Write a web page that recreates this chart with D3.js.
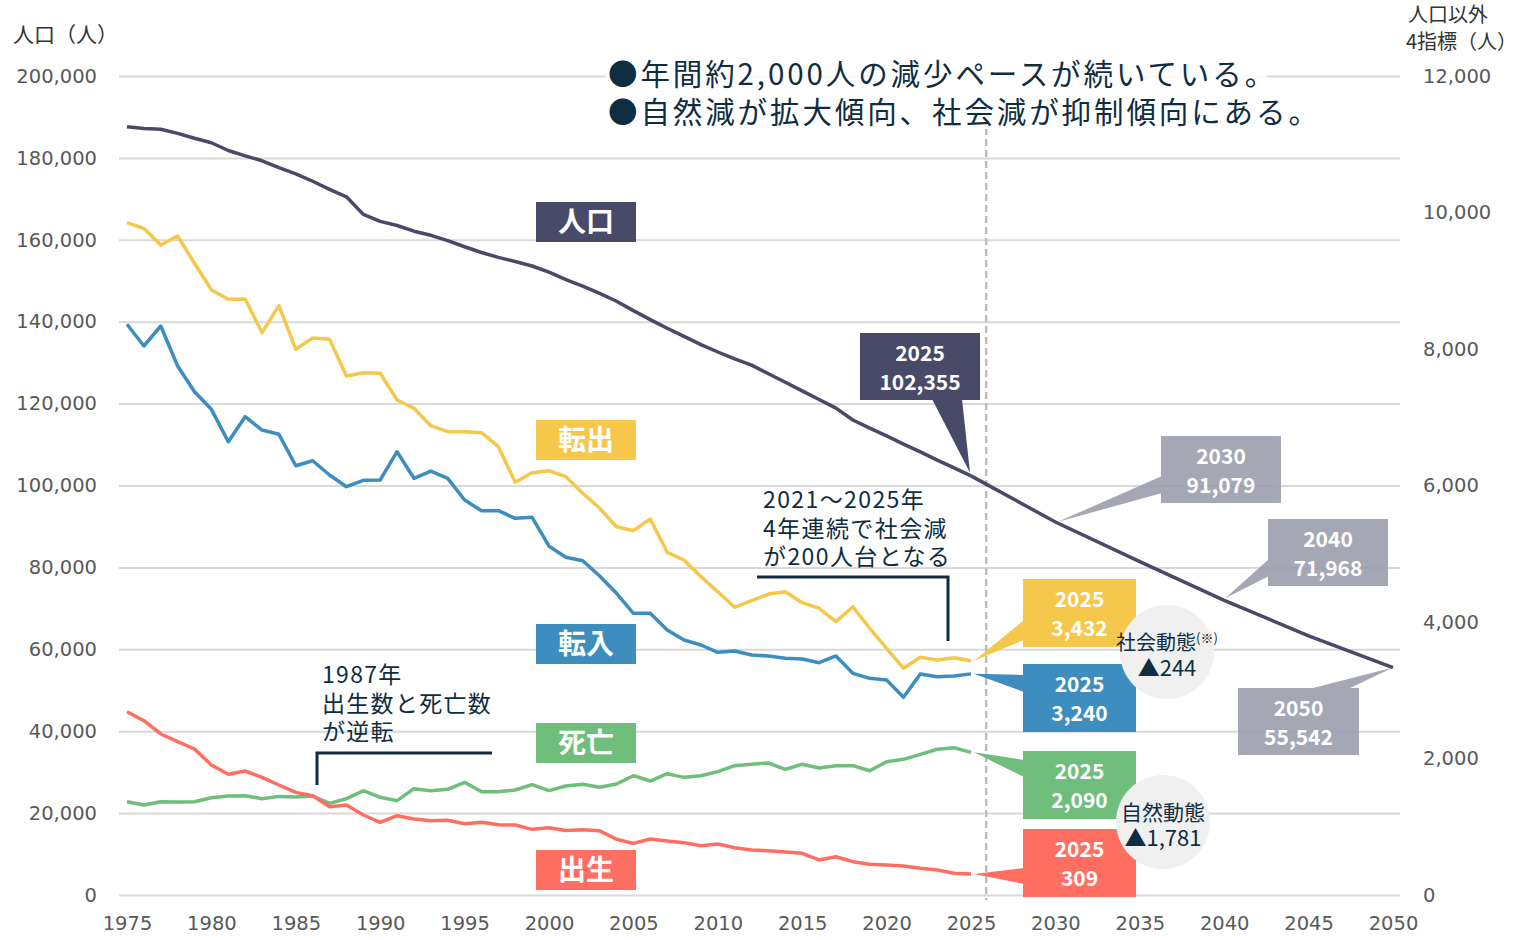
<!DOCTYPE html>
<html><head><meta charset="utf-8">
<script src="https://cdn.jsdelivr.net/npm/d3@7"></script>
<style>
body{margin:0;background:#fff}
svg{display:block}
text{font-family:"Noto Sans CJK JP","Noto Sans",sans-serif}
</style>
</head><body>
<svg id="c" width="1524" height="940"></svg>
<script>
// ===== DATA =====
const years = [1975,1976,1977,1978,1979,1980,1981,1982,1983,1984,1985,1986,1987,1988,1989,1990,1991,1992,1993,1994,1995,1996,1997,1998,1999,2000,2001,2002,2003,2004,2005,2006,2007,2008,2009,2010,2011,2012,2013,2014,2015,2016,2017,2018,2019,2020,2021,2022,2023,2024,2025];
const population = [187600,187200,187000,186000,184800,183700,181800,180500,179300,177600,176100,174300,172300,170500,166200,164500,163500,162100,161100,159800,158300,156900,155700,154700,153600,152100,150300,148700,146900,145000,142700,140500,138400,136400,134400,132600,130900,129400,127300,125200,123100,121000,118900,116000,114000,112100,110100,108200,106200,104300,102355];
const projYears = [2025,2030,2035,2040,2045,2050];
const projPopulation = [102355,91079,81400,71968,63300,55542];
const outflow = [9851,9768,9524,9655,9256,8864,8728,8733,8239,8635,7996,8161,8142,7604,7653,7644,7253,7131,6876,6788,6788,6774,6569,6047,6188,6217,6129,5886,5666,5396,5338,5509,5021,4908,4664,4444,4215,4312,4410,4444,4283,4201,4005,4224,3907,3614,3322,3483,3443,3477,3432];
const inflow = [8362,8044,8337,7751,7374,7116,6642,7008,6813,6750,6290,6363,6154,5982,6076,6081,6495,6105,6212,6105,5788,5631,5631,5519,5534,5110,4948,4898,4674,4420,4127,4127,3883,3736,3663,3556,3575,3516,3502,3468,3458,3404,3502,3248,3175,3150,2897,3238,3199,3209,3240];
const deaths = [1367,1319,1367,1362,1367,1426,1450,1455,1411,1445,1435,1450,1343,1411,1528,1431,1382,1558,1528,1548,1651,1514,1514,1538,1618,1530,1597,1623,1580,1626,1748,1670,1777,1724,1748,1807,1895,1915,1934,1841,1915,1861,1895,1895,1821,1953,1988,2061,2135,2158,2090];
const births = [2686,2554,2359,2246,2139,1905,1768,1817,1724,1612,1504,1455,1294,1319,1172,1065,1162,1114,1089,1094,1045,1065,1030,1025,962,986,945,955,940,816,757,820,791,767,723,747,693,659,649,630,611,513,561,488,450,440,425,391,366,318,309];
const leftTicks = [0,20000,40000,60000,80000,100000,120000,140000,160000,180000,200000];
const rightTicks = [0,2000,4000,6000,8000,10000,12000];
const xTicks = [1975,1980,1985,1990,1995,2000,2005,2010,2015,2020,2025,2030,2035,2040,2045,2050];
const seriesNames = ["人口","転出","転入","死亡","出生"];
const titleLines = ["●年間約2,000人の減少ペースが続いている。","●自然減が拡大傾向、社会減が抑制傾向にある。"];
const popCalloutYears = [2025,2030,2040,2050];
const popCalloutValues = [102355,91079,71968,55542];
const lastValues = [3432,3240,2090,309];
const socialChange = "▲244";
const naturalChange = "▲1,781";

// ===== COLORS =====
const cPop="#484a68", cOut="#f5c84c", cIn="#3d8ebf", cDeath="#6fbe7c", cBirth="#ff6f61", cGrey="#9d9eae", cText="#0f2d40", cAxis="#595959";
const numFont = '"DejaVu Sans","Noto Sans",sans-serif';

const svg = d3.select("#c");
const x = d3.scaleLinear().domain([1975,2050]).range([127,1393]);
const yL = d3.scaleLinear().domain([0,200000]).range([895,76]);
const yR = d3.scaleLinear().domain([0,12000]).range([895,76]);

// gridlines
svg.append("g").attr("transform","translate(119,0)")
  .call(d3.axisLeft(yL).tickValues(leftTicks).tickSize(-1281).tickFormat(""))
  .call(g=>g.select(".domain").remove())
  .selectAll("line").attr("stroke","#d9d9d9").attr("stroke-width",2);

// axes
const axL = svg.append("g").attr("transform","translate(97,0)")
  .call(d3.axisLeft(yL).tickValues(leftTicks).tickSize(0).tickPadding(0).tickFormat(d3.format(",")));
const axR = svg.append("g").attr("transform","translate(1423,0)")
  .call(d3.axisRight(yR).tickValues(rightTicks).tickSize(0).tickPadding(0).tickFormat(d3.format(",")));
const axB = svg.append("g").attr("transform","translate(0,913)")
  .call(d3.axisBottom(x).tickValues(xTicks).tickSize(0).tickPadding(3).tickFormat(d3.format("d")));
[axL,axR,axB].forEach(a=>{
  a.select(".domain").remove();
  a.selectAll("text").attr("font-size",19.5).attr("fill",cAxis)
   .style("font-family",numFont);
});

// axis titles
svg.append("text").attr("x",13).attr("y",42).attr("font-size",21).attr("fill","#333").text("人口（人）");
svg.append("text").attr("x",1408).attr("y",22).attr("font-size",20).attr("fill","#333").text("人口以外");
svg.append("text").attr("x",1406).attr("y",49).attr("font-size",20).attr("fill","#333").text("4指標（人）");

// dashed line
svg.append("line").attr("x1",x(2025.9)).attr("x2",x(2025.9)).attr("y1",128).attr("y2",900)
  .attr("stroke","#bdbdbd").attr("stroke-width",2.5).attr("stroke-dasharray","7,4");

// lines
const lineL = d3.line().x(d=>x(d[0])).y(d=>yL(d[1]));
const lineR = d3.line().x(d=>x(d[0])).y(d=>yR(d[1]));
const zip = (a,b)=>a.map((v,i)=>[v,b[i]]);
svg.append("path").attr("d",lineL(zip(projYears,projPopulation))).attr("fill","none").attr("stroke",cPop).attr("stroke-width",3.5);
svg.append("path").attr("d",lineL(zip(years,population))).attr("fill","none").attr("stroke",cPop).attr("stroke-width",3.5).attr("stroke-linejoin","round");
[[outflow,cOut],[inflow,cIn],[deaths,cDeath],[births,cBirth]].forEach(([s,c])=>{
  svg.append("path").attr("d",lineR(zip(years,s))).attr("fill","none").attr("stroke",c).attr("stroke-width",3.5).attr("stroke-linejoin","round");
});

// title
const titleG = svg.append("g");
titleLines.forEach((t,i)=>{
  const tx = titleG.append("text").attr("x",608).attr("y",85+i*38).attr("font-size",29.5)
    .attr("letter-spacing",2.9).attr("fill",cText).text(t);
  const bb = tx.node().getBBox();
  titleG.insert("rect","text").attr("x",bb.x-2).attr("y",bb.y+4).attr("width",bb.width-8).attr("height",bb.height-6)
    .attr("fill","#fff").attr("opacity",0.85);
});

// series label boxes
const labelBoxes = [
  {n:0,y:202,c:cPop},{n:1,y:420,c:cOut},{n:2,y:624,c:cIn},{n:3,y:723,c:cDeath},{n:4,y:850,c:cBirth}
];
labelBoxes.forEach(b=>{
  svg.append("rect").attr("x",536).attr("y",b.y).attr("width",100).attr("height",40).attr("fill",b.c);
  svg.append("text").attr("x",586).attr("y",b.y+30).attr("text-anchor","middle").attr("font-size",28)
    .attr("font-weight","bold").attr("fill","#fff").text(seriesNames[b.n]);
});

// callout helper
function callout(box, tip, edge, color, l1, l2, opacity){
  const g = svg.append("g").attr("opacity",opacity||1);
  g.append("polygon").attr("points",[tip,edge[0],edge[1]].map(p=>p.join(",")).join(" ")).attr("fill",color);
  g.append("rect").attr("x",box[0]).attr("y",box[1]).attr("width",box[2]).attr("height",box[3]).attr("fill",color);
  const cx = box[0]+box[2]/2;
  g.append("text").attr("x",cx).attr("y",box[1]+28).attr("text-anchor","middle").attr("font-size",21).attr("font-weight","bold").attr("fill","#fff").text(l1);
  g.append("text").attr("x",cx).attr("y",box[1]+57).attr("text-anchor","middle").attr("font-size",21).attr("font-weight","bold").attr("fill","#fff").text(l2);
}
const fmt = d3.format(",");
// population callouts
callout([860,333,120,67],[x(popCalloutYears[0])-1,yL(popCalloutValues[0])-3],[[932,399],[962,399]],cPop,String(popCalloutYears[0]),fmt(popCalloutValues[0]));
callout([1161,436,120,67],[x(popCalloutYears[1])+2,yL(popCalloutValues[1])],[[1162,476],[1162,493]],cGrey,String(popCalloutYears[1]),fmt(popCalloutValues[1]),0.9);
callout([1268,519,120,67],[x(popCalloutYears[2])+1,yL(popCalloutValues[2])-2],[[1269,559],[1269,576]],cGrey,String(popCalloutYears[2]),fmt(popCalloutValues[2]),0.9);
callout([1238,688,121,67],[x(popCalloutYears[3]),yL(popCalloutValues[3])],[[1309,689],[1348,689]],cGrey,String(popCalloutYears[3]),fmt(popCalloutValues[3]),0.9);

// indicator callouts (2025)
const indColors=[cOut,cIn,cDeath,cBirth];
const indBoxY=[579,664,751,829];
const indEdge=[[620,640],[675,692],[760,777],[868,884]];
lastValues.forEach((v,i)=>{
  callout([1023,indBoxY[i],113,68],[x(2025)+3,yR(v)],[[1024,indEdge[i][0]],[1024,indEdge[i][1]]],indColors[i],"2025",fmt(v));
});

// circles
function bubble(cx,cy,l1,sup,l2,fs){
  svg.append("circle").attr("cx",cx).attr("cy",cy).attr("r",47).attr("fill","#f0f0f0");
  const t = svg.append("text").attr("x",cx).attr("y",cy-2).attr("text-anchor","middle").attr("font-size",fs).attr("fill",cText);
  t.append("tspan").text(l1);
  if(sup) t.append("tspan").attr("font-size",13).attr("dy",-7).text(sup);
  svg.append("text").attr("x",cx).attr("y",cy+24).attr("text-anchor","middle").attr("font-size",22).attr("fill",cText).text(l2);
}
bubble(1167,652,"社会動態","(※)",socialChange,20);
bubble(1163,822,"自然動態",null,naturalChange,21);

// annotations
const ann1 = ["2021～2025年","4年連続で社会減","が200人台となる"];
ann1.forEach((t,i)=>svg.append("text").attr("x",763).attr("y",508+i*28.5).attr("font-size",23).attr("letter-spacing",1.4).attr("fill",cText).text(t));
svg.append("path").attr("d","M757,577 H948 V641").attr("fill","none").attr("stroke",cText).attr("stroke-width",3);
const ann2 = ["1987年","出生数と死亡数","が逆転"];
ann2.forEach((t,i)=>svg.append("text").attr("x",322).attr("y",683+i*28.5).attr("font-size",23).attr("letter-spacing",1.3).attr("fill",cText).text(t));
svg.append("path").attr("d","M317,785 V753 H492").attr("fill","none").attr("stroke",cText).attr("stroke-width",3);
</script>
</body></html>
